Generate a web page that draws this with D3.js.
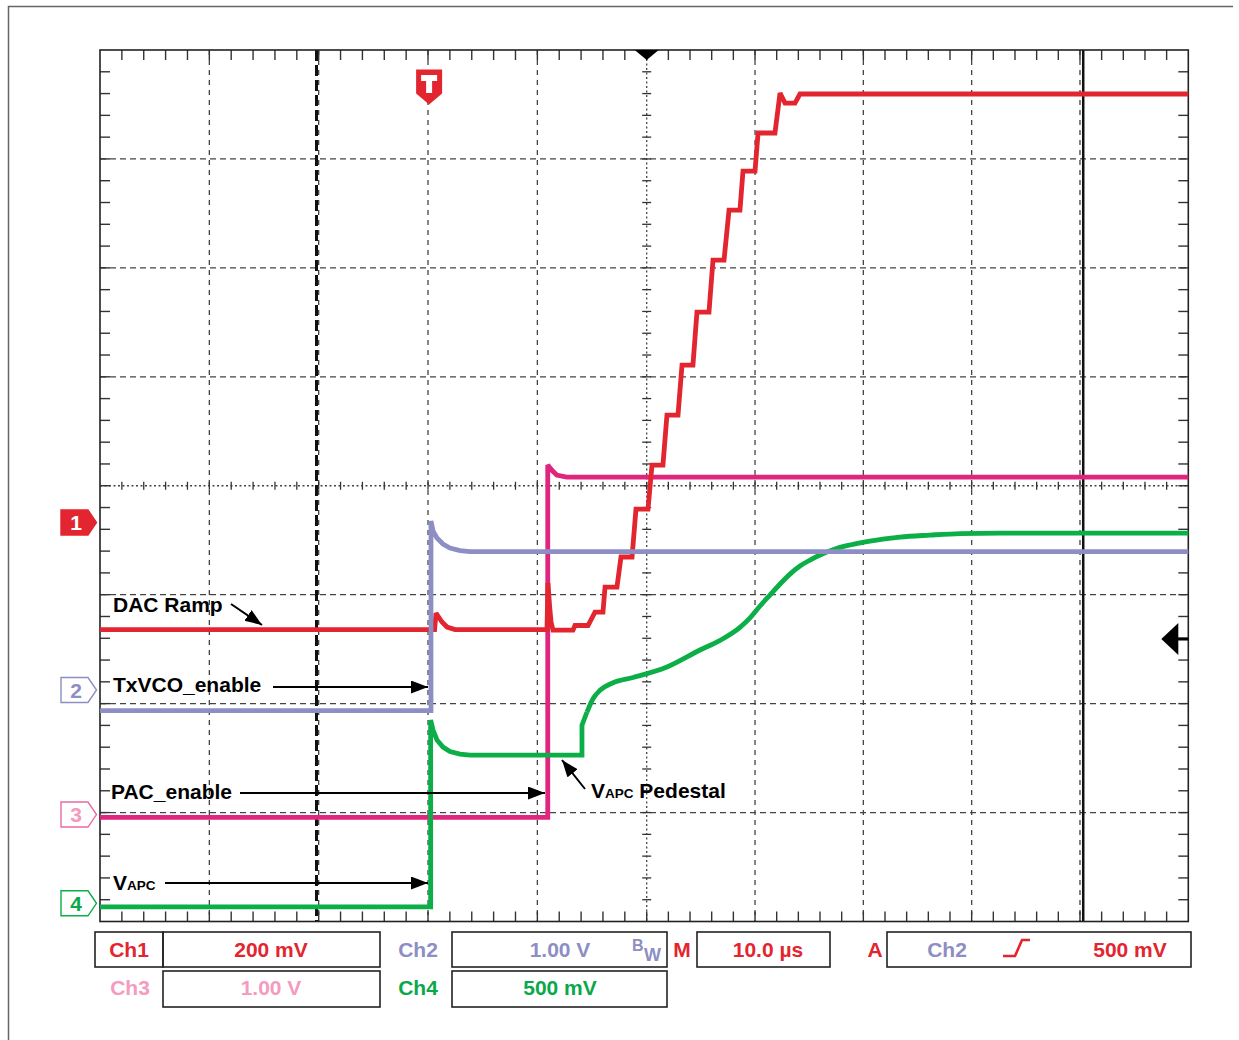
<!DOCTYPE html>
<html><head><meta charset="utf-8">
<script src="https://cdn.jsdelivr.net/npm/d3@7"></script>
<style>
body{margin:0;background:#fff}
svg{display:block}
text{font-family:"Liberation Sans",Arial,Helvetica,sans-serif;font-weight:bold}
</style>
</head><body>
<svg id="c" width="1239" height="1040"></svg>
<script>
// ---- data (time in divisions 0..10, amplitude in divisions -4..4) ----
const ch1Ramp = [[0,-1.32],[3.027,-1.32],[3.06,-1.32],[3.073,-1.169],[3.091,-1.196],[3.128,-1.251],[3.174,-1.297],[3.247,-1.32],
  [4.088,-1.32],[4.097,-0.893],[4.111,-1.095],[4.125,-1.251],[4.143,-1.325],[4.326,-1.325],[4.344,-1.283],[4.463,-1.283],
  [4.527,-1.160],[4.600,-1.160],[4.619,-0.930],[4.728,-0.930],[4.765,-0.654],[4.866,-0.654],[4.902,-0.214],[5.012,-0.214],
  [5.049,0.190],[5.150,0.190],[5.187,0.649],[5.289,0.649],[5.326,1.108],[5.427,1.108],[5.464,1.594],[5.575,1.594],
  [5.612,2.072],[5.714,2.072],[5.760,2.531],[5.861,2.531],[5.889,2.889],[6.000,2.889],[6.028,3.238],[6.184,3.238],
  [6.231,3.605],[6.277,3.513],[6.369,3.513],[6.415,3.596],[10,3.596]];
const ch2TxVCO = [[0,-2.065],[3.027,-2.065],[3.027,-0.324],[3.046,-0.416],[3.082,-0.480],[3.137,-0.535],[3.201,-0.572],
  [3.293,-0.595],[3.384,-0.604],[10,-0.604]];
const ch3PAC = [[0,-3.044],[4.095,-3.044],[4.095,0.190],[4.131,0.144],[4.177,0.098],[4.268,0.080],[10,0.080]];
// Ch4: stepped start, then the smooth ramp
const ch4VAPCStep = [[0,-3.865],[3.024,-3.865],[3.024,-2.151],[3.046,-2.243],[3.082,-2.334],[3.137,-2.399],[3.201,-2.440],
  [3.293,-2.463],[3.384,-2.472],[4.408,-2.472],[4.408,-2.197],[4.454,-2.077]];
const ch4VAPCRamp = [[4.454,-2.077],[4.509,-1.955],[4.573,-1.878],[4.692,-1.808],[4.875,-1.760],[5.187,-1.664],
  [5.492,-1.508],[5.677,-1.420],[5.861,-1.300],[5.954,-1.212],[6.046,-1.104],[6.138,-1.003],
  [6.231,-0.902],[6.323,-0.811],[6.415,-0.737],[6.508,-0.682],[6.600,-0.636],[6.738,-0.581],[6.877,-0.544],[7.061,-0.508],
  [7.338,-0.471],[7.615,-0.453],[7.892,-0.439],[8.262,-0.434],[10,-0.434]];
const channelNames = ["1","2","3","4"];
const groundLevels = [-0.338,-1.875,-3.018,-3.833];
const triggerTime = 3.01;
const triggerLevel = -1.407;
const cursorTimes = [1.98, 9.03];
const scaleRow1 = ["Ch1","200 mV","Ch2","1.00 V","M","10.0 µs","A","Ch2","500 mV"];
const scaleRow2 = ["Ch3","1.00 V","Ch4","500 mV"];

// ---- colours ----
const RED="#e2252f", PURPLE="#8d8ec4", MAGENTA="#e0257f", GREEN="#0cae48", PINK="#f59bbf", PINKSTROKE="#ea6aa2";
const GREENTXT="#0aa84a";

const svg = d3.select("#c");
const x = d3.scaleLinear().domain([0,5,10]).range([100,646.7,1188.3]);
const y = d3.scaleLinear().domain([-4,4]).range([921.5,50]);

// outer frame
svg.append("path").attr("d","M8.5,1040 V6.5 H1233").attr("fill","none").attr("stroke","#666").attr("stroke-width",1.5);

const g = svg.append("g");
// dashed grid
const vDivs = d3.range(1,10).filter(d=>d!==5);
const hDivs = d3.range(-3,4).filter(d=>d!==0);
g.selectAll(".vg").data(vDivs).join("line")
  .attr("x1",d=>x(d)).attr("x2",d=>x(d)).attr("y1",y(4)).attr("y2",y(-4))
  .attr("stroke","#444").attr("stroke-width",1.3).attr("stroke-dasharray","5,5");
g.selectAll(".hg").data(hDivs).join("line")
  .attr("x1",x(0)).attr("x2",x(10)).attr("y1",d=>y(d)).attr("y2",d=>y(d))
  .attr("stroke","#444").attr("stroke-width",1.3).attr("stroke-dasharray","6,4");
// center dotted lines
g.append("line").attr("x1",x(5)).attr("x2",x(5)).attr("y1",y(4)).attr("y2",y(-4))
  .attr("stroke","#444").attr("stroke-width",1.3).attr("stroke-dasharray","2,2.5");
g.append("line").attr("x1",x(0)).attr("x2",x(10)).attr("y1",y(0)).attr("y2",y(0))
  .attr("stroke","#444").attr("stroke-width",1.3).attr("stroke-dasharray","2,2.5");

// minor ticks
const tx = d3.range(1,50).map(i=>i*0.2);
const ty = d3.range(-19,20).map(i=>i*0.2);
const tickC="#333";
tx.forEach(t=>{
  g.append("line").attr("x1",x(t)).attr("x2",x(t)).attr("y1",y(4)).attr("y2",y(4)+10).attr("stroke",tickC).attr("stroke-width",1.4);
  g.append("line").attr("x1",x(t)).attr("x2",x(t)).attr("y1",y(-4)).attr("y2",y(-4)-10).attr("stroke",tickC).attr("stroke-width",1.4);
  g.append("line").attr("x1",x(t)).attr("x2",x(t)).attr("y1",y(0)-4).attr("y2",y(0)+4).attr("stroke",tickC).attr("stroke-width",1.3);
});
ty.forEach(v=>{
  g.append("line").attr("x1",x(0)).attr("x2",x(0)+10).attr("y1",y(v)).attr("y2",y(v)).attr("stroke",tickC).attr("stroke-width",1.4);
  g.append("line").attr("x1",x(10)).attr("x2",x(10)-10).attr("y1",y(v)).attr("y2",y(v)).attr("stroke",tickC).attr("stroke-width",1.4);
  g.append("line").attr("x1",x(5)-4.5).attr("x2",x(5)+4.5).attr("y1",y(v)).attr("y2",y(v)).attr("stroke",tickC).attr("stroke-width",1.3);
});

// cursors
g.append("line").attr("x1",x(cursorTimes[0])).attr("x2",x(cursorTimes[0])).attr("y1",y(4)).attr("y2",y(-4))
  .attr("stroke","#111").attr("stroke-width",3).attr("stroke-dasharray","11,4");
g.append("line").attr("x1",x(cursorTimes[1])).attr("x2",x(cursorTimes[1])).attr("y1",y(4)).attr("y2",y(-4))
  .attr("stroke","#111").attr("stroke-width",2.5);

// border
g.append("rect").attr("x",x(0)).attr("y",y(4)).attr("width",x(10)-x(0)).attr("height",y(-4)-y(4))
  .attr("fill","none").attr("stroke","#222").attr("stroke-width",1.6);

// traces
const line = d3.line().x(d=>x(d[0])).y(d=>y(d[1]));
const smooth = d3.line().x(d=>x(d[0])).y(d=>y(d[1])).curve(d3.curveMonotoneX);
function trace(data, col, gen){
  svg.append("path").datum(data).attr("d",gen).attr("fill","none").attr("stroke",col)
    .attr("stroke-width",4.8).attr("stroke-linejoin","miter").attr("stroke-miterlimit",3).attr("stroke-linecap","butt");
}
trace(ch3PAC, MAGENTA, line);
trace(ch4VAPCStep, GREEN, line);
trace(ch4VAPCRamp, GREEN, smooth);
trace(ch1Ramp, RED, line);
trace(ch2TxVCO, PURPLE, line);

// top trigger-position marker
const cx5 = x(5);
svg.append("path").attr("d",`M${cx5-12},${y(4)} L${cx5+12},${y(4)} L${cx5},${y(4)+10} Z`).attr("fill","#000");
// T marker
const tX = x(triggerTime);
svg.append("path").attr("d",`M${tX-13},69.5 H${tX+13} V93.5 L${tX},104.5 L${tX-13},93.5 Z`).attr("fill",RED);
svg.append("path").attr("d",`M${tX-8},75 H${tX+8} V81 H${tX+3} V93 H${tX-3} V81 H${tX-8} Z`).attr("fill","#fff");

// right trigger-level arrow
const tl = y(triggerLevel);
svg.append("path").attr("d",`M${x(10)-27},${tl} L${x(10)-10},${tl-16} L${x(10)-10},${tl+16} Z`).attr("fill","#000");
svg.append("line").attr("x1",x(10)-12).attr("x2",x(10)).attr("y1",tl).attr("y2",tl).attr("stroke","#000").attr("stroke-width",3);

// channel ground markers
const mk = [{fill:RED,stroke:RED,txt:"#fff"},{fill:"#fff",stroke:PURPLE,txt:PURPLE},
            {fill:"#fff",stroke:PINKSTROKE,txt:PINK},{fill:"#fff",stroke:GREEN,txt:GREENTXT}];
channelNames.forEach((n,i)=>{
  const yy = y(groundLevels[i]);
  svg.append("path").attr("d",`M61,${yy-12.5} H88 L96.5,${yy} L88,${yy+12.5} H61 Z`)
    .attr("fill",mk[i].fill).attr("stroke",mk[i].stroke).attr("stroke-width",1.4);
  svg.append("text").attr("x",76).attr("y",yy+7.5).attr("text-anchor","middle").attr("font-size",21)
    .attr("fill",mk[i].txt).text(n);
});

// arrows
const defs = svg.append("defs");
defs.append("marker").attr("id","ah").attr("markerUnits","userSpaceOnUse").attr("markerWidth",18).attr("markerHeight",14)
  .attr("refX",17).attr("refY",6.5).attr("orient","auto")
  .append("path").attr("d","M0,0 L17,6.5 L0,13 Z").attr("fill","#000");
const arrows = [[231,604,262,625],[273,687,428,687],[240,793,545,793],[165,883,428,883],[585,789,562,760]];
arrows.forEach(a=>{
  svg.append("line").attr("x1",a[0]).attr("y1",a[1]).attr("x2",a[2]).attr("y2",a[3])
    .attr("stroke","#000").attr("stroke-width",2).attr("marker-end","url(#ah)");
});

// annotation labels
const ann = svg.append("g").attr("fill","#000").attr("font-size",21);
ann.append("text").attr("x",113).attr("y",612).text("DAC Ramp");
ann.append("text").attr("x",113).attr("y",692).text("TxVCO_enable");
ann.append("text").attr("x",111).attr("y",799).text("PAC_enable");
const v1 = ann.append("text").attr("x",113).attr("y",890);
v1.append("tspan").text("V");
v1.append("tspan").attr("font-size",13.5).text("APC");
const v2 = ann.append("text").attr("x",591).attr("y",798);
v2.append("tspan").text("V");
v2.append("tspan").attr("font-size",13.5).text("APC");
v2.append("tspan").text(" Pedestal");

// scale readout panel
const boxes1 = [[95,163],[163,380],[452,667],[697,830],[887,1191]];
const boxes2 = [[163,380],[452,667]];
boxes1.forEach(b=>svg.append("rect").attr("x",b[0]).attr("y",932).attr("width",b[1]-b[0]).attr("height",35)
  .attr("fill","none").attr("stroke","#222").attr("stroke-width",1.6));
boxes2.forEach(b=>svg.append("rect").attr("x",b[0]).attr("y",971).attr("width",b[1]-b[0]).attr("height",36)
  .attr("fill","none").attr("stroke","#222").attr("stroke-width",1.6));
const row1Pos = [129,271,418,560,682,768,875,947,1130];
const row1Col = [RED,RED,PURPLE,PURPLE,RED,RED,RED,PURPLE,RED];
scaleRow1.forEach((s,i)=>svg.append("text").attr("x",row1Pos[i]).attr("y",957).attr("text-anchor","middle")
  .attr("font-size",21).attr("fill",row1Col[i]).text(s));
const row2Pos = [130,271,418,560];
const row2Col = [PINK,PINK,GREENTXT,GREENTXT];
scaleRow2.forEach((s,i)=>svg.append("text").attr("x",row2Pos[i]).attr("y",995).attr("text-anchor","middle")
  .attr("font-size",21).attr("fill",row2Col[i]).text(s));
svg.append("text").attr("x",632).attr("y",951).attr("font-size",16).attr("fill",PURPLE).text("B");
svg.append("text").attr("x",644).attr("y",961).attr("font-size",18).attr("fill",PURPLE).text("W");
svg.append("path").attr("d","M1003,956 H1015 L1022,940 H1030").attr("fill","none").attr("stroke",RED).attr("stroke-width",2.6);
</script>
</body></html>
